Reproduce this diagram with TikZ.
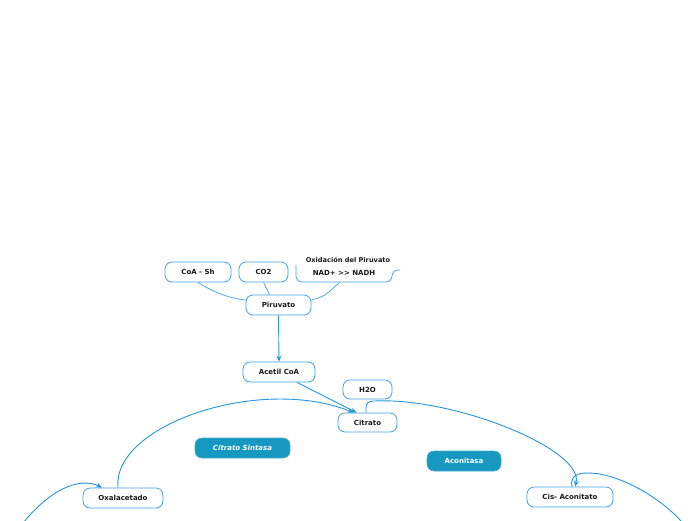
\documentclass[tikz,border=0pt]{standalone}
\usepackage{fontspec}
\setmainfont{DejaVu Sans}
\usetikzlibrary{arrows.meta}
\definecolor{bordc}{RGB}{62,162,228}
\definecolor{linec}{RGB}{36,150,222}
\definecolor{fillc}{RGB}{22,152,192}
\definecolor{inkc}{RGB}{25,25,25}
\tikzset{
  box/.style={draw=bordc, line width=0.8pt, rounded corners=7pt, fill=white,
    minimum height=20pt, inner sep=0pt, text=inkc,
    font=\fontsize{7}{8}\selectfont\bfseries},
  fbox/.style={draw=fillc!80!white, line width=0.6pt, rounded corners=7pt, fill=fillc,
    minimum height=20pt, inner sep=0pt, text=white,
    font=\fontsize{7}{8}\selectfont\bfseries},
  conn/.style={draw=bordc, line width=0.7pt},
  arr/.style={draw=linec, line width=0.9pt, -{Stealth[length=6pt,width=5pt]}},
  rel/.style={draw=linec, line width=0.9pt},
  lbl/.style={inner sep=0pt, text=inkc, font=\fontsize{6.6}{7.5}\selectfont\bfseries}
}
\begin{document}
\begin{tikzpicture}[x=1pt,y=-1pt]
\useasboundingbox (0,0) rectangle (696,520);
% Oxidacion box (open top)
\coordinate (oxtl) at (296,265);
\coordinate (oxstub) at (400,270);
\draw[conn, rounded corners=6pt] (oxtl) -- (296,282) -- (392,282) -- (392,270) -- (oxstub);
\node[lbl] (oxt) at (348,260) {Oxidación del Piruvato};
\node[lbl, font=\fontsize{7}{8}\selectfont\bfseries] (ox) at (344,272.5) {NAD+ >{}> NADH};
\coordinate (oxb) at (340,282);

\node[box, minimum width=66pt] (coa) at (198,272) {CoA - Sh};
\node[box, minimum width=49pt] (co2) at (263.5,272) {CO2};
\node[box, minimum width=65pt] (piru) at (278.5,305) {Piruvato};
\node[box, minimum width=72pt] (acet) at (279,372) {Acetil CoA};
\node[box, minimum width=49pt, minimum height=19pt] (h2o) at (367.5,389.5) {H2O};
\node[box, minimum width=59pt, minimum height=19pt] (cit) at (367.5,422.5) {Citrato};
\node[fbox, minimum width=95pt, font=\fontsize{7}{8}\selectfont\bfseries\itshape] (cs) at (242.5,448) {Citrato Sintasa};
\node[fbox, minimum width=74pt] (aco) at (464,461) {Aconitasa};
\node[box, minimum width=80pt] (oxa) at (123,498) {Oxalacetado};
\node[box, minimum width=86pt] (cis) at (570,497) {Cis- Aconitato};

% connectors to Piruvato
\draw[conn] (coa.south) .. controls +(14,9) and +(-18,-2) .. ([yshift=5pt]piru.west);
\draw[conn] (co2.south) -- ([xshift=-9pt]piru.north);
\draw[conn] (oxb) .. controls +(-10,9) and +(14,-3) .. ([yshift=5pt]piru.east);

% arrows
\draw[arr] (piru.south) -- (acet.north);
\draw[arr] ([xshift=18pt]acet.south) -- ([xshift=-11pt]cit.north);
\draw[arr] ([xshift=-5pt]oxa.north) .. controls (112,425) and (260,375) .. ([xshift=-14pt]cit.north);
\draw[arr] ([xshift=-1.5pt]cit.north) -- ++(0,-5) .. controls +(0,-4) and +(-6,0) .. (374,401)
   .. controls (455,397) and (585,450) .. ([xshift=5pt]cis.north);
\coordinate (cisout) at (682,522);
\draw[rel] ([xshift=2pt]cis.north) .. controls +(-3,-15) and +(-15,-2) .. (600,474)
   .. controls (630,480) and (662,500) .. (cisout);
\coordinate (oxain) at (24,522);
\draw[arr] (oxain) .. controls (48,492) and (78,476) .. ([xshift=-21pt]oxa.north);
\end{tikzpicture}
\end{document}
